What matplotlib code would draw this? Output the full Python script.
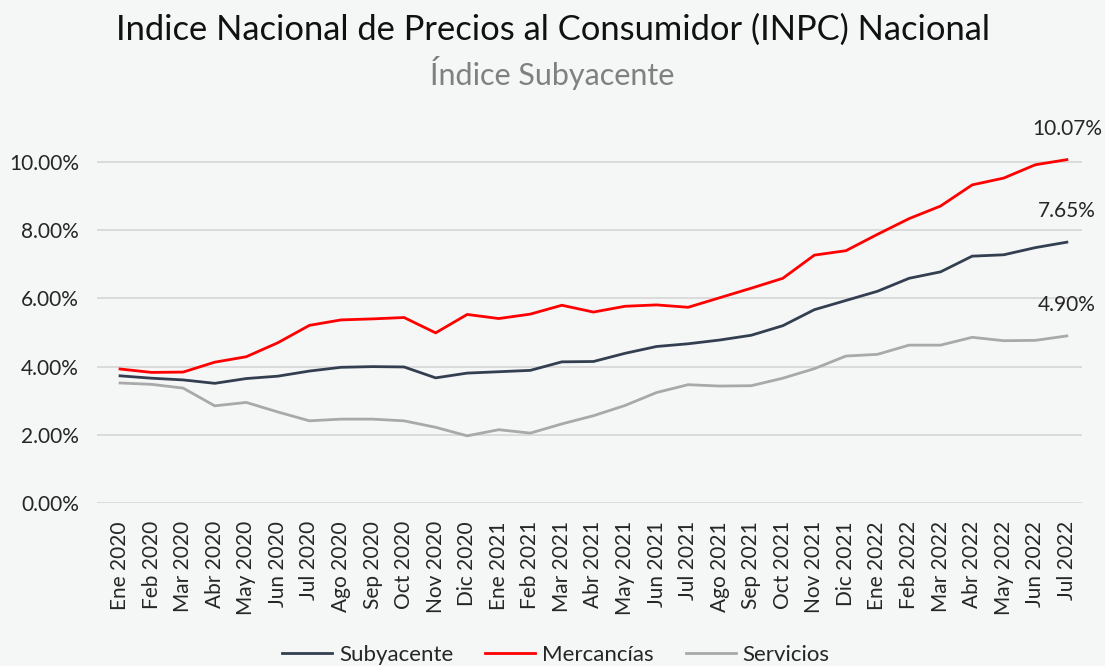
import matplotlib.pyplot as plt
from matplotlib.ticker import FuncFormatter

plt.rcParams['font.family'] = ['Lato', 'DejaVu Sans']

meses = ['Ene 2020', 'Feb 2020', 'Mar 2020', 'Abr 2020', 'May 2020', 'Jun 2020',
         'Jul 2020', 'Ago 2020', 'Sep 2020', 'Oct 2020', 'Nov 2020', 'Dic 2020',
         'Ene 2021', 'Feb 2021', 'Mar 2021', 'Abr 2021', 'May 2021', 'Jun 2021',
         'Jul 2021', 'Ago 2021', 'Sep 2021', 'Oct 2021', 'Nov 2021', 'Dic 2021',
         'Ene 2022', 'Feb 2022', 'Mar 2022', 'Abr 2022', 'May 2022', 'Jun 2022',
         'Jul 2022']

subyacente = [3.73, 3.66, 3.61, 3.51, 3.65, 3.72, 3.87, 3.98, 4.00, 3.99, 3.67,
              3.81, 3.85, 3.89, 4.14, 4.15, 4.39, 4.59, 4.67, 4.78, 4.92, 5.20,
              5.67, 5.94, 6.21, 6.59, 6.78, 7.24, 7.28, 7.49, 7.65]

mercancias = [3.93, 3.83, 3.84, 4.13, 4.29, 4.70, 5.21, 5.37, 5.40, 5.44, 4.99,
              5.53, 5.41, 5.54, 5.80, 5.60, 5.77, 5.81, 5.74, 6.02, 6.30, 6.59,
              7.27, 7.40, 7.88, 8.34, 8.71, 9.33, 9.53, 9.92, 10.07]

servicios = [3.52, 3.48, 3.37, 2.85, 2.95, 2.67, 2.41, 2.46, 2.46, 2.41, 2.22,
             1.97, 2.15, 2.05, 2.32, 2.56, 2.86, 3.24, 3.47, 3.43, 3.44, 3.66,
             3.94, 4.31, 4.36, 4.63, 4.63, 4.86, 4.76, 4.77, 4.90]

bg = '#f5f6f6'
fig = plt.figure(figsize=(11.05, 6.66), dpi=100, facecolor=bg)
ax = fig.add_axes([97 / 1105, 163 / 666, (1082 - 97) / 1105, 358 / 666])
ax.set_facecolor(bg)

x = list(range(len(meses)))
ax.plot(x, subyacente, color='#333f50', lw=2.0, label='Subyacente')
ax.plot(x, mercancias, color='#ff0000', lw=2.0, label='Mercancías')
ax.plot(x, servicios, color='#a9a9a9', lw=2.0, label='Servicios')

# etiquetas del ultimo dato
for serie in (mercancias, subyacente, servicios):
    ax.annotate(f'{serie[-1]:.2f}%', (x[-1], serie[-1]), xytext=(0, 31),
                textcoords='offset pixels', ha='center', va='center',
                fontsize=15, color='#262626', annotation_clip=False)

ax.set_xlim(-0.73, 30.48)
ax.set_ylim(0, 10.5)
ax.set_yticks([0, 2, 4, 6, 8, 10])
ax.yaxis.set_major_formatter(FuncFormatter(lambda v, p: f'{v:.2f}%'))
ax.set_xticks(x)
ax.set_xticklabels(meses, rotation=90)
ax.tick_params(axis='both', length=0, labelsize=15, colors='#262626')
ax.tick_params(axis='y', pad=13)
ax.tick_params(axis='x', pad=13)
ax.grid(axis='y', color='#d9d9d9', lw=1.3)
ax.set_axisbelow(True)
for s in ax.spines.values():
    s.set_visible(False)

fig.text(0.5, 0.955, 'Indice Nacional de Precios al Consumidor (INPC) Nacional',
         ha='center', va='center', fontsize=24.8, color='#111111')
fig.text(0.5, 0.89, 'Índice Subyacente', ha='center', va='center',
         fontsize=22, color='#808080')

fig.legend(loc='center', bbox_to_anchor=(0.503, 0.017), ncol=3, frameon=False,
           fontsize=16, handlelength=2.25, columnspacing=1.45, handletextpad=0.3,
           labelcolor='#262626')

fig.savefig('out.png', dpi=100, facecolor=bg)
